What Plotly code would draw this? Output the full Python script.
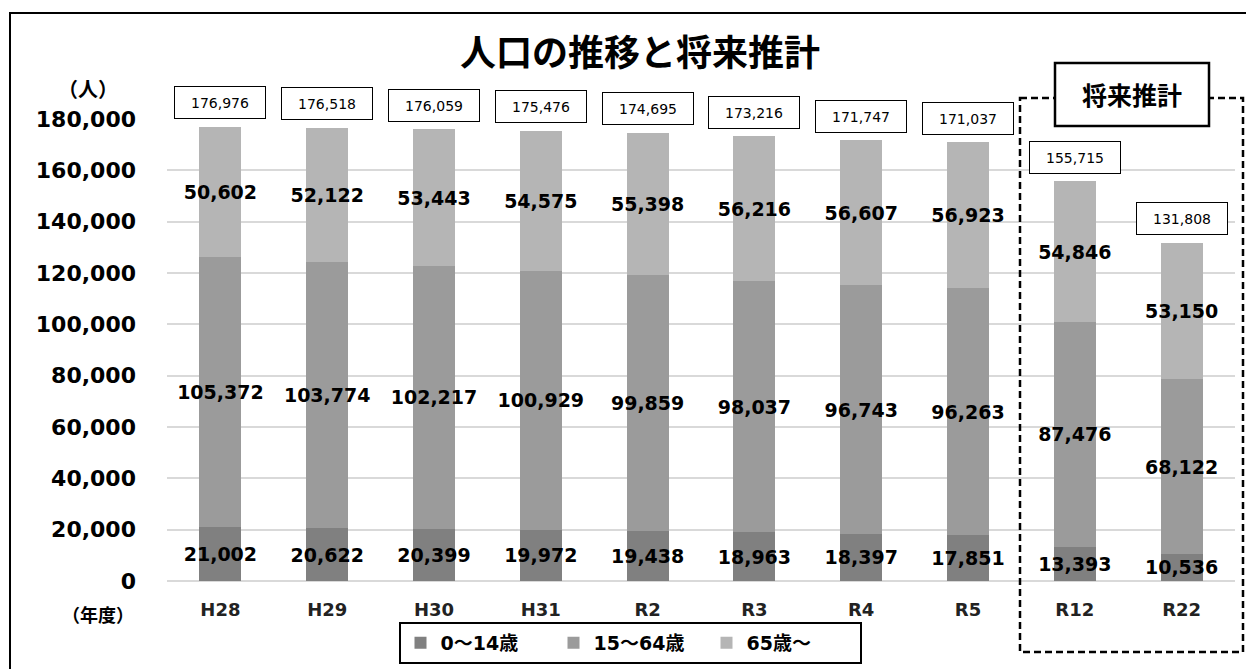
import plotly.graph_objects as go

categories = ["H28", "H29", "H30", "H31", "R2", "R3", "R4", "R5", "R12", "R22"]
age_0_14 = [21002, 20622, 20399, 19972, 19438, 18963, 18397, 17851, 13393, 10536]
age_15_64 = [105372, 103774, 102217, 100929, 99859, 98037, 96743, 96263, 87476, 68122]
age_65_plus = [50602, 52122, 53443, 54575, 55398, 56216, 56607, 56923, 54846, 53150]
series_names = ["0～14歳", "15～64歳", "65歳～"]
colors = ["#808080", "#9b9b9b", "#b5b5b5"]
y_ticks = [0, 20000, 40000, 60000, 80000, 100000, 120000, 140000, 160000, 180000]

totals = [a + b + c for a, b, c in zip(age_0_14, age_15_64, age_65_plus)]

FONT = "DejaVu Sans, Noto Sans CJK JP"
CJK = "Noto Sans CJK JP"

# page has an 8px body margin; figure is sized to fit the window
OFF = 8
W, H = 1254 - OFF, 669 - OFF
PL, PR, PT, PB = 167, 1235, 119, 581  # plot area in page pixels
pw, ph = PR - PL, PB - PT


def px(x):
    return (x - PL) / pw


def py(y):
    return (PB - y) / ph


fig = go.Figure()
for name, vals, col in zip(series_names, [age_0_14, age_15_64, age_65_plus], colors):
    fig.add_trace(go.Bar(
        x=categories, y=vals, name=name, marker=dict(color=col, line=dict(width=0)),
        texttemplate="%{y:,d}", textposition="inside", insidetextanchor="middle",
        textangle=0, constraintext="none",
        textfont=dict(family=FONT, size=19, color="black", weight="bold"),
        hoverinfo="skip",
    ))

for c, t in zip(categories, totals):
    fig.add_annotation(
        x=c, y=t, xref="x", yref="y", yshift=24, text=f"{t:,}", showarrow=False,
        xanchor="center", yanchor="middle", width=80, height=21,
        font=dict(family=FONT, size=14, color="black"),
        bgcolor="white", bordercolor="black", borderwidth=1, borderpad=5,
    )

shapes = [
    dict(type="rect", xref="paper", yref="paper", x0=px(10), x1=px(1262), y0=py(13), y1=py(680),
         line=dict(color="black", width=2), fillcolor="rgba(0,0,0,0)", layer="above"),
    dict(type="rect", xref="paper", yref="paper", x0=px(1020), x1=px(1243), y0=py(98), y1=py(652),
         line=dict(color="black", width=2.5, dash="7px,4px"), fillcolor="rgba(0,0,0,0)", layer="above"),
    dict(type="rect", xref="paper", yref="paper", x0=px(1055), x1=px(1209), y0=py(63), y1=py(126),
         line=dict(color="black", width=2.5), fillcolor="white", layer="above"),
]

def label(x, y, text, size, family=CJK):
    fig.add_annotation(x=px(x), y=py(y), xref="paper", yref="paper", text=text, showarrow=False,
                       xanchor="center", yanchor="middle",
                       font=dict(family=family, size=size, color="black", weight="bold"))

label(1132, 94, "将来推計", 25)
label(640, 50, "人口の推移と将来推計", 36)
label(88, 88, "（人）", 20)
label(98, 614, "（年度）", 18)

fig.update_layout(
    width=W, height=H,
    margin=dict(l=PL - OFF, r=W + OFF - PR, t=PT - OFF, b=H + OFF - PB, pad=0, autoexpand=False),
    barmode="stack", bargap=0.607,
    plot_bgcolor="white", paper_bgcolor="white",
    font=dict(family=FONT, color="black"),
    showlegend=True,
    legend=dict(orientation="h", x=px(630), y=py(643), xanchor="center", yanchor="middle",
                bordercolor="black", borderwidth=2, bgcolor="white",
                font=dict(family=FONT, size=19, color="black", weight="bold"),
                itemwidth=30, traceorder="normal", entrywidth=108, entrywidthmode="pixels"),
    shapes=shapes,
)
fig.update_xaxes(showgrid=False, showline=False, ticks="", ticklabelstandoff=16,
                 tickfont=dict(family=FONT, size=18, color="#222222", weight="bold"))
fig.update_yaxes(range=[0, 180000], tickvals=y_ticks, tickformat=",d",
                 showgrid=True, gridcolor="#d9d9d9", gridwidth=1.5,
                 zeroline=True, zerolinecolor="#d9d9d9", zerolinewidth=1.5,
                 showline=False, ticks="", ticklabelstandoff=30,
                 tickfont=dict(family=FONT, size=22, color="black", weight="bold"))

fig.write_html("out.html")
